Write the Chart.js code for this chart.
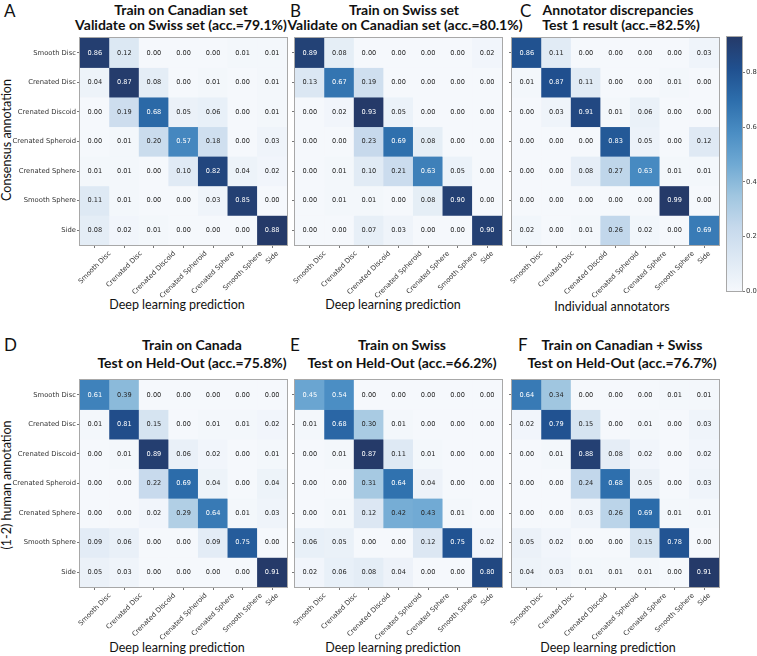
<!DOCTYPE html>
<html>
<head>
<meta charset="utf-8">
<script src="https://cdn.jsdelivr.net/npm/chart.js@4.4.0/dist/chart.umd.min.js"></script>
<style>
body { margin:0; width:757px; height:656px; background:#fff; position:relative; overflow:hidden; font-family:Lato, sans-serif; color:#111; }
canvas { position:absolute; }
.lbl { position:absolute; font-size:17px; line-height:1; }
.ttl { position:absolute; font-weight:bold; font-size:14px; white-space:nowrap; transform:translate(-50%,-50%); line-height:1; }
.ax { position:absolute; font-size:12.5px; white-space:nowrap; transform:translate(-50%,-50%); line-height:1; }
.ax.v { transform:translate(-50%,-50%) rotate(-90deg); }
</style>
</head>
<body>
<div class="lbl" style="left:4px;top:2px">A</div>
<div class="lbl" style="left:290px;top:2px">B</div>
<div class="lbl" style="left:520px;top:2px">C</div>
<div class="lbl" style="left:4px;top:336px">D</div>
<div class="lbl" style="left:290px;top:336px">E</div>
<div class="lbl" style="left:518px;top:336px">F</div>

<div class="ttl" style="left:181px;top:10px">Train on Canadian set</div>
<div class="ttl" style="left:181px;top:25px">Validate on Swiss set (acc.=79.1%)</div>
<div class="ttl" style="left:404px;top:10px">Train on Swiss set</div>
<div class="ttl" style="left:405px;top:25px">Validate on Canadian set (acc.=80.1%)</div>
<div class="ttl" style="left:618px;top:10px">Annotator discrepancies</div>
<div class="ttl" style="left:621px;top:25px">Test 1 result (acc.=82.5%)</div>
<div class="ttl" style="left:192px;top:345px">Train on Canada</div>
<div class="ttl" style="left:192px;top:363px">Test on Held-Out (acc.=75.8%)</div>
<div class="ttl" style="left:402px;top:345px">Train on Swiss</div>
<div class="ttl" style="left:402px;top:363px">Test on Held-Out (acc.=66.2%)</div>
<div class="ttl" style="left:622px;top:345px">Train on Canadian + Swiss</div>
<div class="ttl" style="left:622px;top:363px">Test on Held-Out (acc.=76.7%)</div>

<div class="ax" style="left:177px;top:305px">Deep learning prediction</div>
<div class="ax" style="left:393px;top:305px">Deep learning prediction</div>
<div class="ax" style="left:612px;top:307px">Individual annotators</div>
<div class="ax" style="left:177px;top:648px">Deep learning prediction</div>
<div class="ax" style="left:393px;top:648px">Deep learning prediction</div>
<div class="ax" style="left:608px;top:648px">Deep learning prediction</div>
<div class="ax v" style="left:7px;top:140px">Consensus annotation</div>
<div class="ax v" style="left:7px;top:485px">(1-2) human annotation</div>

<script>
const classes = ['Smooth Disc', 'Crenated Disc', 'Crenated Discoid', 'Crenated Spheroid', 'Crenated Sphere', 'Smooth Sphere', 'Side'];

const matrixA = [
    [0.86, 0.12, 0.00, 0.00, 0.00, 0.01, 0.01],
    [0.04, 0.87, 0.08, 0.00, 0.01, 0.00, 0.01],
    [0.00, 0.19, 0.68, 0.05, 0.06, 0.00, 0.01],
    [0.00, 0.01, 0.20, 0.57, 0.18, 0.00, 0.03],
    [0.01, 0.01, 0.00, 0.10, 0.82, 0.04, 0.02],
    [0.11, 0.01, 0.00, 0.00, 0.03, 0.85, 0.00],
    [0.08, 0.02, 0.01, 0.00, 0.00, 0.00, 0.88]
];
const matrixB = [
    [0.89, 0.08, 0.00, 0.00, 0.00, 0.00, 0.02],
    [0.13, 0.67, 0.19, 0.00, 0.00, 0.00, 0.00],
    [0.00, 0.02, 0.93, 0.05, 0.00, 0.00, 0.00],
    [0.00, 0.00, 0.23, 0.69, 0.08, 0.00, 0.00],
    [0.00, 0.01, 0.10, 0.21, 0.63, 0.05, 0.00],
    [0.00, 0.01, 0.01, 0.00, 0.08, 0.90, 0.00],
    [0.00, 0.00, 0.07, 0.03, 0.00, 0.00, 0.90]
];
const matrixC = [
    [0.86, 0.11, 0.00, 0.00, 0.00, 0.00, 0.03],
    [0.01, 0.87, 0.11, 0.00, 0.00, 0.01, 0.00],
    [0.00, 0.03, 0.91, 0.01, 0.06, 0.00, 0.00],
    [0.00, 0.00, 0.00, 0.83, 0.05, 0.00, 0.12],
    [0.00, 0.00, 0.08, 0.27, 0.63, 0.01, 0.01],
    [0.00, 0.00, 0.00, 0.00, 0.00, 0.99, 0.00],
    [0.02, 0.00, 0.01, 0.26, 0.02, 0.00, 0.69]
];
const matrixD = [
    [0.61, 0.39, 0.00, 0.00, 0.00, 0.00, 0.00],
    [0.01, 0.81, 0.15, 0.00, 0.01, 0.01, 0.02],
    [0.00, 0.01, 0.89, 0.06, 0.02, 0.00, 0.01],
    [0.00, 0.00, 0.22, 0.69, 0.04, 0.00, 0.04],
    [0.00, 0.00, 0.02, 0.29, 0.64, 0.01, 0.03],
    [0.09, 0.06, 0.00, 0.00, 0.09, 0.75, 0.00],
    [0.05, 0.03, 0.00, 0.00, 0.00, 0.00, 0.91]
];
const matrixE = [
    [0.45, 0.54, 0.00, 0.00, 0.00, 0.00, 0.00],
    [0.01, 0.68, 0.30, 0.01, 0.00, 0.00, 0.00],
    [0.00, 0.01, 0.87, 0.11, 0.01, 0.00, 0.00],
    [0.00, 0.00, 0.31, 0.64, 0.04, 0.00, 0.00],
    [0.00, 0.01, 0.12, 0.42, 0.43, 0.01, 0.00],
    [0.06, 0.05, 0.00, 0.00, 0.12, 0.75, 0.02],
    [0.02, 0.06, 0.08, 0.04, 0.00, 0.00, 0.80]
];
const matrixF = [
    [0.64, 0.34, 0.00, 0.00, 0.00, 0.01, 0.01],
    [0.02, 0.79, 0.15, 0.00, 0.01, 0.00, 0.03],
    [0.00, 0.01, 0.88, 0.08, 0.02, 0.00, 0.02],
    [0.00, 0.00, 0.24, 0.68, 0.05, 0.00, 0.03],
    [0.00, 0.00, 0.03, 0.26, 0.69, 0.01, 0.01],
    [0.05, 0.02, 0.00, 0.00, 0.15, 0.78, 0.00],
    [0.04, 0.03, 0.01, 0.01, 0.01, 0.00, 0.91]
];

const colorbarTicks = [0, 0.2, 0.4, 0.6, 0.8];
const colorbarMax = 0.93;

// Blues colormap (slightly washed, like the figure)
const bluesStops = ['#f5f8fc', '#dee9f4', '#c6d9ec', '#a0c6e0', '#6fa9d3', '#4a8dc3', '#2d6eac', '#20508f', '#253a69'];

function hexRgb(h) {
    return [parseInt(h.substr(1, 2), 16), parseInt(h.substr(3, 2), 16), parseInt(h.substr(5, 2), 16)];
}

function blues(t) {
    t = Math.max(0, Math.min(1, t));
    const p = t * (bluesStops.length - 1);
    const i = Math.min(Math.floor(p), bluesStops.length - 2);
    const f = p - i;
    const a = hexRgb(bluesStops[i]), b = hexRgb(bluesStops[i + 1]);
    const c = a.map((v, k) => Math.round(v + (b[k] - v) * f));
    return `rgb(${c[0]},${c[1]},${c[2]})`;
}

const tickFont = { family: 'DejaVu Sans', size: 6.8 };
const cellSize = 207;

const cellText = {
    id: 'cellText',
    afterDatasetsDraw(chart) {
        const ctx = chart.ctx;
        ctx.save();
        ctx.font = '6.6px "DejaVu Sans"';
        ctx.textAlign = 'center';
        ctx.textBaseline = 'middle';
        chart.data.datasets.forEach((ds, r) => {
            chart.getDatasetMeta(r).data.forEach((bar, c) => {
                const v = ds.values[c];
                ctx.fillStyle = v > ds.vmax / 2 ? '#ffffff' : '#262626';
                ctx.fillText(v.toFixed(2), bar.x, (bar.y + bar.base) / 2);
            });
        });
        ctx.restore();
    },
    afterDraw(chart) {
        const ctx = chart.ctx;
        const area = chart.chartArea;
        ctx.save();
        ctx.strokeStyle = '#a8a8a8';
        ctx.lineWidth = 1;
        ctx.strokeRect(Math.round(area.left) - 0.5, Math.round(area.top) - 0.5, Math.round(area.right - area.left) + 1, Math.round(area.bottom - area.top) + 1);

        // rotated x labels, centred on the tick like matplotlib
        ctx.font = '6.8px "DejaVu Sans"';
        ctx.fillStyle = '#333';
        ctx.textAlign = 'center';
        ctx.textBaseline = 'middle';
        const xs = chart.scales.x;
        classes.forEach((c, i) => {
            const x = xs.getPixelForTick(i);
            const w = ctx.measureText(c).width;
            const hb = (w + 7) * Math.SQRT1_2;
            ctx.save();
            ctx.translate(x, area.bottom + 5 + hb / 2);
            ctx.rotate(-Math.PI / 4);
            ctx.fillText(c, 0, 0);
            ctx.restore();
        });
        ctx.restore();
    }
};

function panel(matrix, left, top, withLabels) {
    const yw = withLabels ? 80 : 10;
    const cv = document.createElement('canvas');
    cv.width = yw + cellSize + 8;
    cv.height = 6 + cellSize + 60;
    cv.style.left = (left - yw) + 'px';
    cv.style.top = (top - 6) + 'px';
    document.body.appendChild(cv);

    const vmax = Math.max(...matrix.flat());
    const datasets = matrix.map((row, r) => ({
        label: classes[r],
        data: row.map(() => 1),
        values: row,
        vmax: vmax,
        backgroundColor: row.map(v => blues(v / vmax)),
        borderWidth: 0,
        barPercentage: 1,
        categoryPercentage: 1
    }));

    new Chart(cv, {
        type: 'bar',
        data: { labels: classes, datasets: datasets },
        options: {
            responsive: false,
            animation: false,
            layout: { padding: { top: 6, right: 8, left: 0, bottom: 0 } },
            plugins: { legend: { display: false }, tooltip: { enabled: false } },
            scales: {
                x: {
                    stacked: true,
                    grid: { offset: false, drawOnChartArea: false, tickLength: 3, tickColor: '#777' },
                    border: { display: false },
                    ticks: { display: false },
                    afterFit: s => { s.height = 60; }
                },
                y: {
                    stacked: true,
                    min: 0,
                    max: 7,
                    reverse: true,
                    grid: { drawOnChartArea: false, tickLength: 3, tickColor: '#777' },
                    border: { display: false },
                    afterBuildTicks: s => { s.ticks = classes.map((c, i) => ({ value: i + 0.5 })); },
                    ticks: {
                        autoSkip: false,
                        font: tickFont,
                        color: '#333',
                        padding: 1,
                        callback: v => withLabels ? classes[Math.floor(v)] : ''
                    },
                    afterFit: s => { s.width = yw; }
                }
            }
        },
        plugins: [cellText]
    });
}

panel(matrixA, 80, 38, true);
panel(matrixB, 295, 38, false);
panel(matrixC, 512, 38, false);
panel(matrixD, 80, 380, true);
panel(matrixE, 295, 380, false);
panel(matrixF, 512, 380, false);

// colour bar
const gradientBar = {
    id: 'gradientBar',
    beforeDatasetsDraw(chart) {
        const ctx = chart.ctx;
        const a = chart.chartArea;
        const g = ctx.createLinearGradient(0, a.bottom, 0, a.top);
        bluesStops.forEach((c, i) => g.addColorStop(i / (bluesStops.length - 1), c));
        ctx.save();
        ctx.fillStyle = g;
        ctx.fillRect(a.left, a.top, a.right - a.left, a.bottom - a.top);
        ctx.strokeStyle = '#a8a8a8';
        ctx.strokeRect(Math.round(a.left) - 0.5, Math.round(a.top) - 0.5, Math.round(a.right - a.left) + 1, Math.round(a.bottom - a.top) + 1);
        ctx.restore();
    }
};

const cb = document.createElement('canvas');
cb.width = 39;
cb.height = 270;
cb.style.left = '718px';
cb.style.top = '30px';
document.body.appendChild(cb);

new Chart(cb, {
    type: 'scatter',
    data: { datasets: [] },
    options: {
        responsive: false,
        animation: false,
        layout: { padding: { top: 7, left: 9, bottom: 9, right: 0 } },
        plugins: { legend: { display: false }, tooltip: { enabled: false } },
        scales: {
            x: { display: false },
            y: {
                position: 'right',
                min: 0,
                max: colorbarMax,
                afterBuildTicks: s => { s.ticks = colorbarTicks.map(v => ({ value: v })); },
                ticks: { font: tickFont, color: '#333', padding: 1, callback: v => v.toFixed(1) },
                grid: { drawOnChartArea: false, tickLength: 3, tickColor: '#777' },
                border: { display: false },
                afterFit: s => { s.width = 15; }
            }
        }
    },
    plugins: [gradientBar]
});
</script>
</body>
</html>
